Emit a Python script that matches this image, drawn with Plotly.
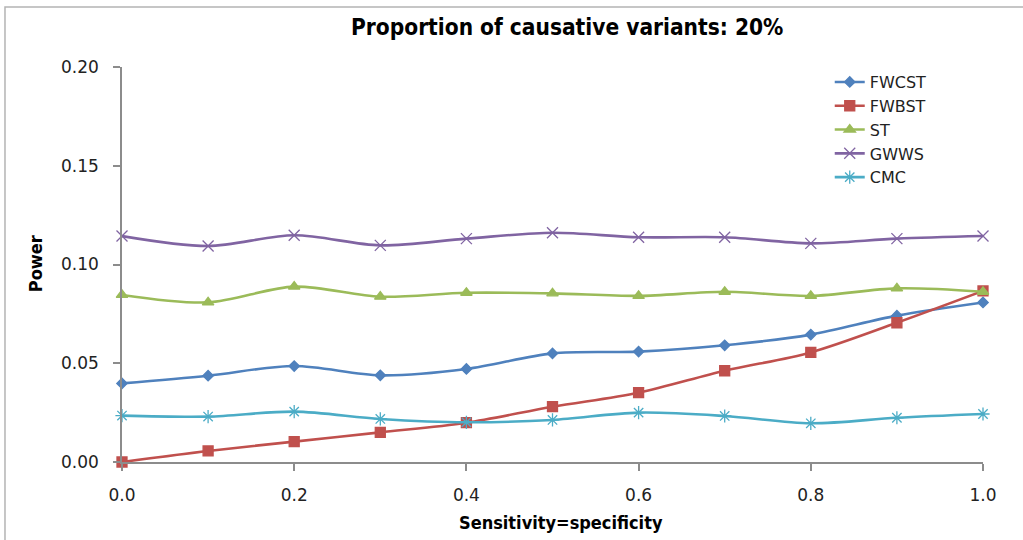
import plotly.graph_objects as go

# Sensitivity = specificity levels
x_vals = [0.0, 0.1, 0.2, 0.3, 0.4, 0.5, 0.6, 0.7, 0.8, 0.9, 1.0]

# Power of each test
fwcst = [0.0398, 0.0437, 0.0486, 0.0439, 0.0471, 0.0550, 0.0559, 0.0591, 0.0645, 0.0741, 0.0808]
fwbst = [0.0000, 0.0056, 0.0103, 0.0150, 0.0199, 0.0280, 0.0351, 0.0462, 0.0555, 0.0705, 0.0866]
st = [0.0846, 0.0808, 0.0888, 0.0837, 0.0857, 0.0854, 0.0841, 0.0862, 0.0841, 0.0879, 0.0862]
gwws = [0.1144, 0.1094, 0.1148, 0.1097, 0.1131, 0.1161, 0.1138, 0.1138, 0.1107, 0.1131, 0.1144]
cmc = [0.0235, 0.0230, 0.0255, 0.0218, 0.0201, 0.0213, 0.0250, 0.0233, 0.0196, 0.0224, 0.0243]

x_ticks = [0.0, 0.2, 0.4, 0.6, 0.8, 1.0]
x_tick_labels = ["0.0", "0.2", "0.4", "0.6", "0.8", "1.0"]
y_ticks = [0.00, 0.05, 0.10, 0.15, 0.20]
y_tick_labels = ["0.00", "0.05", "0.10", "0.15", "0.20"]

series = [
    ("FWCST", fwcst, "#4F81BD", "diamond", 8),
    ("FWBST", fwbst, "#C0504D", "square", 10),
    ("ST", st, "#9BBB59", "triangle-up", 10),
    ("GWWS", gwws, "#8064A2", "x-thin-open", 11),
    ("CMC", cmc, "#4BACC6", "asterisk-open", 11),
]

fig = go.Figure()
for name, vals, color, symbol, size in series:
    fig.add_trace(go.Scatter(
        x=x_vals, y=vals, name=name, mode="lines+markers",
        line=dict(color=color, width=2.6, shape="spline", smoothing=0.9),
        marker=dict(symbol=symbol, size=size, color=color,
                    line=dict(color=color, width=1.3)),
        cliponaxis=False,
    ))

tick_font = dict(family="DejaVu Sans", size=17, color="#222222")
bold_font = "Liberation Sans Narrow, DejaVu Sans Condensed, sans-serif"

fig.update_layout(
    width=1023, height=540,
    margin=dict(l=122, r=40, t=67, b=78),
    paper_bgcolor="white", plot_bgcolor="white",
    showlegend=True,
    legend=dict(
        x=0.822, y=1.005, xanchor="left", yanchor="top",
        font=dict(family="DejaVu Sans", size=16, color="#222222"),
        bgcolor="rgba(0,0,0,0)", tracegroupgap=0,
    ),
    xaxis=dict(
        range=[0, 1], tickvals=x_ticks, ticktext=x_tick_labels,
        showgrid=False, zeroline=False,
        showline=True, linecolor="#8c8c8c", linewidth=1.5,
        ticks="outside", ticklen=7, tickcolor="#8c8c8c", tickwidth=1.5,
        tickfont=tick_font, ticklabelstandoff=10,
    ),
    yaxis=dict(
        range=[0, 0.2], tickvals=y_ticks, ticktext=y_tick_labels,
        showgrid=False, zeroline=False,
        showline=True, linecolor="#8c8c8c", linewidth=1.5,
        ticks="outside", ticklen=7, tickcolor="#8c8c8c", tickwidth=1.5,
        tickfont=tick_font, ticklabelstandoff=11,
    ),
    annotations=[
        dict(text="<b>Proportion of causative variants: 20%</b>",
             xref="paper", yref="paper", x=0.517, y=1.102,
             xanchor="center", yanchor="middle", showarrow=False,
             font=dict(family=bold_font, size=22.5, color="#000000")),
        dict(text="<b>Sensitivity=specificity</b>",
             xref="paper", yref="paper", x=0.51, y=-0.154,
             xanchor="center", yanchor="middle", showarrow=False,
             font=dict(family=bold_font, size=18, color="#000000")),
        dict(text="<b>Power</b>",
             xref="paper", yref="paper", x=-0.101, y=0.501,
             xanchor="center", yanchor="middle", showarrow=False,
             textangle=-90,
             font=dict(family=bold_font, size=18, color="#000000")),
    ],
    shapes=[
        dict(type="rect", xref="paper", yref="paper",
             x0=-0.1359, y0=-0.25, x1=1.12, y1=1.152,
             line=dict(color="#b4b4b4", width=1.5), fillcolor="rgba(0,0,0,0)",
             layer="below"),
    ],
)

fig.write_html("out.html")
